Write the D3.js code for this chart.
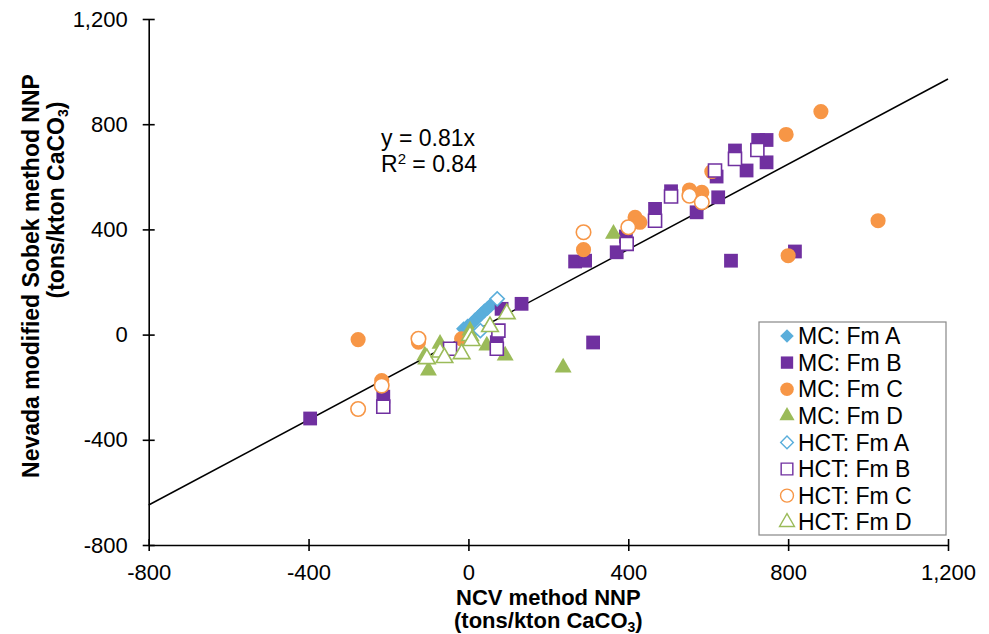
<!DOCTYPE html>
<html>
<head>
<meta charset="utf-8">
<script src="https://cdn.jsdelivr.net/npm/d3@7"></script>
<style>
  html, body { margin: 0; padding: 0; background: #fff; }
  svg { display: block; font-family: "Liberation Sans", Arial, sans-serif; }
</style>
</head>
<body>
<svg id="chart" width="989" height="634"></svg>
<script>
// ---- data ----
const xTicks = [-800, -400, 0, 400, 800, 1200];
const yTicks = [-800, -400, 0, 400, 800, 1200];
const trendSlope = 0.81;
const trendLabel = "y = 0.81x";
const r2Label = "0.84";

const seriesNames = ["MC: Fm A", "MC: Fm B", "MC: Fm C", "MC: Fm D", "HCT: Fm A", "HCT: Fm B", "HCT: Fm C", "HCT: Fm D"];

const mcA_x = [-12, -2, 8, 16, 24, 32, 40, 48, 56, 64];
const mcA_y = [22, 32, 42, 55, 66, 78, 90, 100, 112, 122];

const mcB_x = [-396, -213, 71, 83, 133, 312, 267, 292, 371, 394, 467, 507, 571, 625, 621, 667, 696, 725, 746, 746, 817, 657];
const mcB_y = [-319, -236, -29, 98, 117, -30, 278, 281, 313, 373, 478, 545, 465, 522, 601, 700, 624, 740, 740, 655, 316, 281];

const mcC_x = [-276, -217, -125, -17, 288, 417, 429, 553, 584, 609, 795, 882, 1025, 800];
const mcC_y = [-19, -175, -29, -16, 323, 446, 427, 550, 541, 620, 761, 848, 433, 300];

const mcD_x = [-100, -109, -71, 4, 46, 92, 237, 363];
const mcD_y = [-137, -80, -35, 15, -42, -80, -125, 383];

const hctA_x = [30, 72];
const hctA_y = [15, 136];

const hctB_x = [-213, -46, 75, 71, 396, 467, 507, 617, 667, 723];
const hctB_y = [-274, -54, 15, -54, 345, 433, 525, 624, 668, 702];

const hctC_x = [-276, -217, -125, 288, 400, 553, 584];
const hctC_y = [-283, -194, -16, 389, 408, 528, 503];

const hctD_x = [-104, -71, -60, -17, 4, 8, 54, 96];
const hctD_y = [-92, -67, -88, -73, -4, -23, 30, 79];

// ---- series config ----
const BLUE = "#5aaedb", PURPLE = "#7030a0", ORANGE = "#f79646", GREEN = "#9bbb59";
const series = [
  {name: seriesNames[0], xs: mcA_x, ys: mcA_y, shape: d3.symbolSquare, rot: 45, color: BLUE, filled: true, size: 115},
  {name: seriesNames[1], xs: mcB_x, ys: mcB_y, shape: d3.symbolSquare, rot: 0, color: PURPLE, filled: true, size: 190},
  {name: seriesNames[2], xs: mcC_x, ys: mcC_y, shape: d3.symbolCircle, rot: 0, color: ORANGE, filled: true, size: 180},
  {name: seriesNames[3], xs: mcD_x, ys: mcD_y, shape: d3.symbolTriangle, rot: 0, color: GREEN, filled: true, size: 125},
  {name: seriesNames[4], xs: hctA_x, ys: hctA_y, shape: d3.symbolSquare, rot: 45, color: BLUE, filled: false, size: 100},
  {name: seriesNames[5], xs: hctB_x, ys: hctB_y, shape: d3.symbolSquare, rot: 0, color: PURPLE, filled: false, size: 170},
  {name: seriesNames[6], xs: hctC_x, ys: hctC_y, shape: d3.symbolCircle, rot: 0, color: ORANGE, filled: false, size: 165},
  {name: seriesNames[7], xs: hctD_x, ys: hctD_y, shape: d3.symbolTriangle, rot: 0, color: GREEN, filled: false, size: 120}
];

const FS = 23, TICKFS = 22, TITLEFS = 21;
const svg = d3.select("#chart");
const pLeft = 148.7, pRight = 948, pTop = 19, pBottom = 545;
const x = d3.scaleLinear().domain([-800, 1200]).range([pLeft, pRight]);
const y = d3.scaleLinear().domain([-800, 1200]).range([pBottom, pTop]);
const fmt = d => d3.format(",")(d).replace("\u2212", "-");

// axes
const xAxis = svg.append("g").attr("transform", `translate(0,${pBottom})`)
  .call(d3.axisBottom(x).tickValues(xTicks).tickFormat(fmt).tickSizeOuter(0).tickSizeInner(6).tickPadding(14));
const yAxis = svg.append("g").attr("transform", `translate(${pLeft},0)`)
  .call(d3.axisLeft(y).tickValues(yTicks).tickFormat(fmt).tickSizeOuter(0).tickSizeInner(6).tickPadding(15));
[xAxis, yAxis].forEach(g => {
  g.select(".domain").attr("stroke", "#000").attr("stroke-width", 1.6);
  g.selectAll(".tick text").attr("font-size", TICKFS).attr("fill", "#000")
    .attr("font-family", "'Liberation Sans', Arial, sans-serif");
});
xAxis.selectAll(".tick line").attr("y1", -6).attr("y2", 6).attr("stroke", "#000").attr("stroke-width", 1.6);
yAxis.selectAll(".tick line").attr("x1", -6).attr("x2", 6).attr("stroke", "#000").attr("stroke-width", 1.6);
xAxis.selectAll(".tick text").attr("dy", "0.7em");

// trendline
svg.append("line")
  .attr("x1", x(-800)).attr("y1", y(-800 * trendSlope))
  .attr("x2", x(1200)).attr("y2", y(1200 * trendSlope))
  .attr("stroke", "#000").attr("stroke-width", 1.5);

// points
series.forEach(s => {
  const sym = d3.symbol().type(s.shape).size(s.size);
  const pts = s.xs.map((v, i) => [v, s.ys[i]]);
  svg.append("g").selectAll("path").data(pts).join("path")
    .attr("d", sym)
    .attr("transform", d => `translate(${x(d[0])},${y(d[1])}) rotate(${s.rot})`)
    .attr("fill", s.filled ? s.color : "#fff")
    .attr("stroke", s.filled ? "none" : s.color)
    .attr("stroke-width", s.filled ? 0 : 1.6);
});

// equation
svg.append("text").attr("x", 381).attr("y", 146).attr("font-size", FS).attr("fill", "#000").text(trendLabel);
const r2 = svg.append("text").attr("x", 381).attr("y", 172).attr("font-size", FS).attr("fill", "#000");
r2.append("tspan").text("R");
r2.append("tspan").attr("font-size", 15).attr("dy", -8).text("2");
r2.append("tspan").attr("dy", 8).text(" = " + r2Label);

// axis titles
function unitLine(sel) {
  sel.append("tspan").text("(tons/kton CaCO");
  sel.append("tspan").attr("font-size", 14).attr("dy", 4).text("3");
  sel.append("tspan").attr("dy", -4).text(")");
}
svg.append("text").attr("x", (pLeft + pRight) / 2).attr("y", 605).attr("text-anchor", "middle")
  .attr("font-size", TITLEFS + 1).attr("font-weight", "bold").text("NCV method NNP");
unitLine(svg.append("text").attr("x", (pLeft + pRight) / 2).attr("y", 628).attr("text-anchor", "middle")
  .attr("font-size", TITLEFS + 1).attr("font-weight", "bold"));

svg.append("text").attr("transform", `translate(39,276) rotate(-90)`).attr("text-anchor", "middle")
  .attr("font-size", FS).attr("font-weight", "bold").text("Nevada modified Sobek method NNP");
unitLine(svg.append("text").attr("transform", `translate(64,200) rotate(-90)`).attr("text-anchor", "middle")
  .attr("font-size", FS).attr("font-weight", "bold"));

// legend
const lg = svg.append("g");
lg.append("rect").attr("x", 759).attr("y", 322).attr("width", 187).attr("height", 213)
  .attr("fill", "#fff").attr("stroke", "#888").attr("stroke-width", 1.2);
series.forEach((s, i) => {
  const cy = 336 + i * 26.6;
  lg.append("path").attr("d", d3.symbol().type(s.shape).size(s.size * 0.8)())
    .attr("transform", `translate(787,${cy}) rotate(${s.rot})`)
    .attr("fill", s.filled ? s.color : "#fff")
    .attr("stroke", s.filled ? "none" : s.color).attr("stroke-width", s.filled ? 0 : 1.4);
  lg.append("text").attr("x", 798).attr("y", cy).attr("dy", "0.36em").attr("font-size", FS).attr("fill", "#000").text(s.name);
});
</script>
</body>
</html>
